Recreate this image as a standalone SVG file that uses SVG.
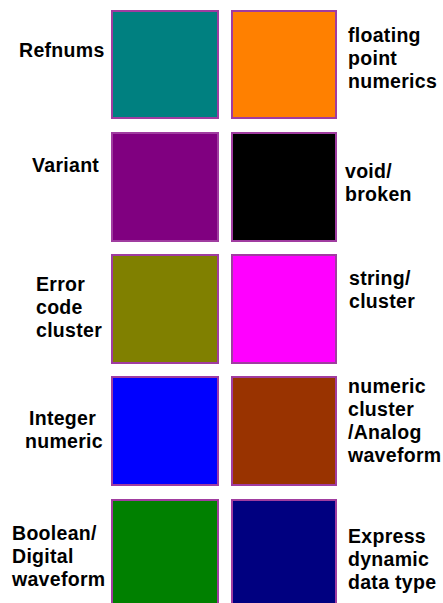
<svg xmlns="http://www.w3.org/2000/svg" width="443" height="603" viewBox="0 0 443 603">
  <style>
    .sw { stroke: #a03ca0; stroke-width: 2; }
    .lbl { font-family: "Liberation Sans", Arial, sans-serif; font-weight: bold; font-size: 19.5px; letter-spacing: 0.3px; fill: #000; }
  </style>
  <rect width="443" height="603" fill="#fff"/>

  <!-- colour swatches: left column x=112, right column x=232 -->
  <g id="refnums"><rect class="sw" x="112" y="11" width="106" height="107" fill="#008080"/>
    <text class="lbl" x="19" y="57">Refnums</text></g>
  <g id="float"><rect class="sw" x="232" y="11" width="104" height="107" fill="#ff8000"/>
    <text class="lbl" x="348"><tspan x="348" y="42">floating</tspan><tspan x="348" y="65">point</tspan><tspan x="348" y="88">numerics</tspan></text></g>

  <g id="variant"><rect class="sw" x="112" y="133" width="106" height="108" fill="#800080"/>
    <text class="lbl" x="32" y="172">Variant</text></g>
  <g id="void"><rect class="sw" x="232" y="133" width="104" height="108" fill="#000000"/>
    <text class="lbl"><tspan x="345" y="178">void/</tspan><tspan x="345" y="201">broken</tspan></text></g>

  <g id="error"><rect class="sw" x="112" y="255" width="106" height="108" fill="#808000"/>
    <text class="lbl"><tspan x="36" y="291">Error</tspan><tspan x="36" y="314">code</tspan><tspan x="36" y="337">cluster</tspan></text></g>
  <g id="string"><rect class="sw" x="232" y="255" width="104" height="108" fill="#ff00ff"/>
    <text class="lbl"><tspan x="349" y="285">string/</tspan><tspan x="349" y="308">cluster</tspan></text></g>

  <g id="integer"><rect class="sw" x="112" y="377" width="106" height="108" fill="#0000ff"/>
    <text class="lbl"><tspan x="29" y="425">Integer</tspan><tspan x="25" y="448">numeric</tspan></text></g>
  <g id="numcluster"><rect class="sw" x="232" y="377" width="104" height="108" fill="#993300"/>
    <text class="lbl"><tspan x="348" y="393">numeric</tspan><tspan x="348" y="416">cluster</tspan><tspan x="348" y="439">/Analog</tspan><tspan x="348" y="462">waveform</tspan></text></g>

  <g id="boolean"><rect class="sw" x="112" y="500" width="106" height="108" fill="#008000"/>
    <text class="lbl"><tspan x="12" y="540">Boolean/</tspan><tspan x="12" y="563">Digital</tspan><tspan x="12" y="586">waveform</tspan></text></g>
  <g id="express"><rect class="sw" x="232" y="500" width="104" height="108" fill="#000080"/>
    <text class="lbl"><tspan x="348" y="543">Express</tspan><tspan x="348" y="566">dynamic</tspan><tspan x="348" y="589">data type</tspan></text></g>
</svg>
